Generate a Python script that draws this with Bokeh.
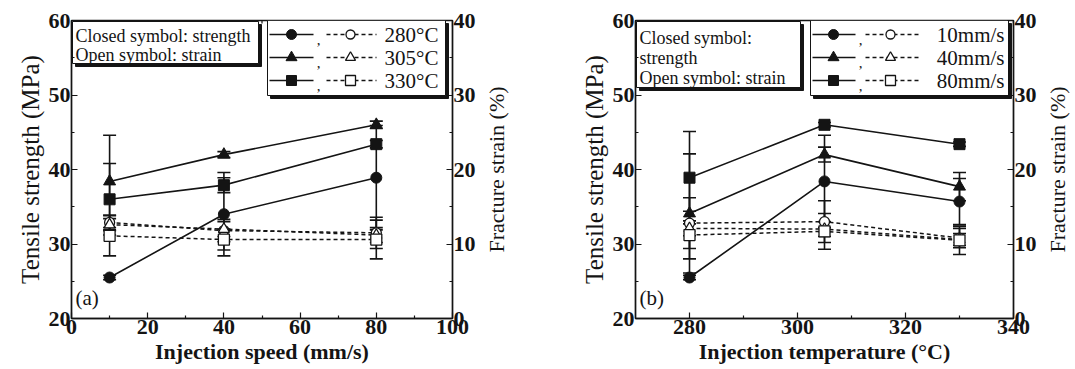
from bokeh.plotting import figure
from bokeh.models import Range1d, LinearAxis, FixedTicker
from bokeh.layouts import row
from bokeh.embed import file_html
from bokeh.resources import INLINE
from bokeh.core.properties import value

# ---------------- data ----------------
# (a) effect of injection speed, one series per injection temperature
speed = [10, 40, 80]
a_labels = ["280°C", "305°C", "330°C"]
a_strength_280 = [25.5, 34.0, 38.9]
a_strength_305 = [38.4, 42.0, 46.0]
a_strength_330 = [36.0, 37.9, 43.4]
a_strength_err_280 = [0.3, 5.6, 7.0]
a_strength_err_305 = [6.2, 0.4, 0.5]
a_strength_err_330 = [4.8, 1.0, 0.5]
a_strain_280 = [12.9, 11.8, 11.5]
a_strain_305 = [12.6, 12.0, 11.2]
a_strain_330 = [11.1, 10.6, 10.6]
a_strain_err_280 = [1.0, 1.5, 2.1]
a_strain_err_305 = [0.8, 1.0, 1.0]
a_strain_err_330 = [2.7, 1.4, 2.6]

# (b) effect of injection temperature, one series per injection speed
temperature = [280, 305, 330]
b_labels = ["10mm/s", "40mm/s", "80mm/s"]
b_strength_10 = [25.5, 38.4, 35.7]
b_strength_40 = [34.1, 42.0, 37.7]
b_strength_80 = [38.9, 46.0, 43.4]
b_strength_err_10 = [0.3, 6.2, 3.1]
b_strength_err_40 = [8.0, 1.0, 1.9]
b_strength_err_80 = [6.2, 0.3, 0.3]
b_strain_10 = [12.8, 13.0, 10.8]
b_strain_40 = [12.1, 12.0, 10.6]
b_strain_80 = [11.2, 11.7, 10.5]
b_strain_err_10 = [3.4, 2.8, 1.3]
b_strain_err_40 = [1.0, 1.0, 0.8]
b_strain_err_80 = [3.2, 2.4, 1.9]

a_x_ticks = [0, 20, 40, 60, 80, 100]
a_x_minor = [10, 30, 50, 70, 90]
b_x_ticks = [280, 300, 320, 340]
b_x_minor = [290, 310, 330]
strength_ticks = [20, 30, 40, 50, 60]
strength_minor = [25, 35, 45, 55]
strain_ticks = [0, 10, 20, 30, 40]
strain_minor = [5, 15, 25, 35]

SERIF = "Liberation Serif"
INK = "#141414"
MARKERS = ["circle", "triangle", "square"]
FILLED_SIZE = {"circle": 11, "triangle": 12, "square": 11}
OPEN_SIZE = {"circle": 10, "triangle": 11, "square": 11}


def style_axis(ax, bold_label=False, label_size="22px"):
    ax.major_tick_in = 6
    ax.major_tick_out = 0
    ax.minor_tick_in = 3
    ax.minor_tick_out = 0
    ax.axis_line_color = INK
    ax.axis_line_width = 1.4
    ax.major_tick_line_color = INK
    ax.minor_tick_line_color = INK
    ax.major_tick_line_width = 1.2
    ax.minor_tick_line_width = 1.2
    ax.major_label_text_font = SERIF
    ax.major_label_text_font_style = "bold"
    ax.major_label_text_font_size = "22px"
    ax.major_label_text_color = INK
    ax.major_label_standoff = 1
    ax.axis_label_text_font = SERIF
    ax.axis_label_text_font_size = label_size
    ax.axis_label_text_font_style = "bold" if bold_label else "normal"
    ax.axis_label_text_color = INK
    ax.axis_label_standoff = 2


def build(x, strengths, strength_errs, strains, strain_errs, labels, xr,
          xticks, xminor, xlabel, tag, W, bl, br, ox, note_lines, geom):
    p = figure(width=W, height=369, x_range=Range1d(xr[0], xr[1]),
               y_range=Range1d(20, 60), x_axis_type=None, y_axis_type=None,
               output_backend="svg", toolbar_location=None,
               min_border_left=bl, min_border_right=br,
               min_border_top=20, min_border_bottom=51)
    p.extra_y_ranges = {"strain": Range1d(0, 40)}
    p.outline_line_color = INK
    p.outline_line_width = 1.4
    p.background_fill_color = "white"
    p.border_fill_color = "white"

    fw = W - bl - br

    def X(px):
        return xr[0] + (px - ox - bl) / fw * (xr[1] - xr[0])

    def Y(py):
        return 20 + (318 - py) / 298 * 40

    bottom = LinearAxis(ticker=FixedTicker(ticks=xticks, minor_ticks=xminor), axis_label=xlabel)
    style_axis(bottom, bold_label=True, label_size="22px")
    p.add_layout(bottom, "below")
    left = LinearAxis(ticker=FixedTicker(ticks=strength_ticks, minor_ticks=strength_minor),
                      axis_label="Tensile strength (MPa)")
    style_axis(left, label_size="25px")
    p.add_layout(left, "left")
    right = LinearAxis(y_range_name="strain",
                       ticker=FixedTicker(ticks=strain_ticks, minor_ticks=strain_minor))
    style_axis(right)
    p.add_layout(right, "right")

    # inward ticks along the top edge of the frame (no labels)
    p.segment(x0=xticks, y0=[60] * len(xticks), x1=xticks, y1=[Y(26)] * len(xticks),
              line_color=INK, line_width=1.2)
    p.segment(x0=xminor, y0=[60] * len(xminor), x1=xminor, y1=[Y(23)] * len(xminor),
              line_color=INK, line_width=1.2)

    # strain (open symbols, dashed)
    for i in range(3):
        p.line(x, strains[i], y_range_name="strain", line_color=INK,
               line_width=1.5, line_dash="4 3")
        lo = [v - e for v, e in zip(strains[i], strain_errs[i])]
        hi = [v + e for v, e in zip(strains[i], strain_errs[i])]
        p.segment(x0=x, y0=lo, x1=x, y1=hi, y_range_name="strain",
                  line_color=INK, line_width=1.6)
        p.scatter(x, lo, y_range_name="strain", marker="dash", size=13,
                  line_color=INK, line_width=1.6)
        p.scatter(x, hi, y_range_name="strain", marker="dash", size=13,
                  line_color=INK, line_width=1.6)
    # strength (closed symbols, solid)
    for i in range(3):
        p.line(x, strengths[i], line_color=INK, line_width=1.6)
        lo = [v - e for v, e in zip(strengths[i], strength_errs[i])]
        hi = [v + e for v, e in zip(strengths[i], strength_errs[i])]
        p.segment(x0=x, y0=lo, x1=x, y1=hi, line_color=INK, line_width=1.6)
        p.scatter(x, lo, marker="dash", size=13, line_color=INK, line_width=1.6)
        p.scatter(x, hi, marker="dash", size=13, line_color=INK, line_width=1.6)
        p.scatter(x, strengths[i], marker=MARKERS[i], size=FILLED_SIZE[MARKERS[i]],
                  fill_color=INK, line_color=INK)
    for i in range(3):
        p.scatter(x, strains[i], y_range_name="strain", marker=MARKERS[i],
                  size=OPEN_SIZE[MARKERS[i]], fill_color="white",
                  line_color=INK, line_width=1.3)

    def shadow_box(l, r, t, b):
        p.quad(left=[X(l + 3)], right=[X(r + 3)], top=[Y(t + 3)], bottom=[Y(b + 3)],
               fill_color=INK, line_color=INK)
        p.quad(left=[X(l)], right=[X(r)], top=[Y(t)], bottom=[Y(b)],
               fill_color="white", line_color=INK, line_width=1)

    g = geom
    shadow_box(*g["note_box"])
    p.text(x=[X(g["note_x"])] * len(note_lines), y=[Y(v) for v in g["note_y"]],
           text=note_lines, text_font=value(SERIF), text_font_size=value("18px"),
           text_baseline="middle", text_align="left", text_color=INK)

    shadow_box(*g["leg_box"])
    for i in range(3):
        yy = Y(g["rows"][i])
        p.line([X(g["solid"][0]), X(g["solid"][1])], [yy, yy], line_color=INK, line_width=1.6)
        p.scatter([X(g["solid_m"])], [yy], marker=MARKERS[i], size=FILLED_SIZE[MARKERS[i]] - 1,
                  fill_color=INK, line_color=INK)
        p.text(x=[X(g["comma"])], y=[Y(g["rows"][i] + 5)], text=[","],
               text_font=value(SERIF), text_font_size=value("15px"),
               text_baseline="middle", text_align="center", text_color=INK)
        p.line([X(g["dash"][0]), X(g["dash"][1])], [yy, yy], line_color=INK,
               line_width=1.4, line_dash="4 3")
        p.scatter([X(g["dash_m"])], [yy], marker=MARKERS[i], size=OPEN_SIZE[MARKERS[i]] - 1,
                  fill_color="white", line_color=INK, line_width=1.3)
    p.text(x=[X(g["lab_x"])] * 3, y=[Y(v) for v in g["rows"]], text=labels,
           text_font=value(SERIF), text_font_size=value("21px"),
           text_baseline="middle", text_align=g["lab_align"], text_color=INK)

    p.text(x=[X(g["tag"][0])], y=[Y(g["tag"][1])], text=[tag],
           text_font=value(SERIF), text_font_size=value("21px"),
           text_baseline="middle", text_align="left", text_color=INK)
    return p


def title_strip(W, text):
    """Narrow companion figure whose left-axis title reads bottom-to-top,
    serving as the right-hand axis title of the panel next to it."""
    s = figure(width=W, height=369, x_range=Range1d(0, 1), y_range=Range1d(0, 40),
               x_axis_type=None, y_axis_type=None, output_backend="svg",
               toolbar_location=None, min_border_left=27, min_border_right=0,
               min_border_top=20, min_border_bottom=51)
    s.outline_line_color = None
    s.background_fill_color = "white"
    s.border_fill_color = "white"
    ax = LinearAxis(ticker=FixedTicker(ticks=[]), axis_label=text)
    style_axis(ax, label_size="22px")
    ax.axis_line_color = None
    ax.major_tick_line_color = None
    ax.minor_tick_line_color = None
    ax.axis_label_standoff = 1
    s.add_layout(ax, "left")
    return s


geom_a = dict(note_box=(72, 258, 21, 63), note_x=75, note_y=[35, 54],
              leg_box=(267, 445, 20, 95), rows=[34, 57, 80],
              solid=(269, 313), solid_m=291, comma=318, dash=(326, 376), dash_m=350,
              lab_x=384, lab_align="left", tag=(75, 297))
geom_b = dict(note_box=(636, 800, 21, 87), note_x=639, note_y=[37, 57, 77],
              leg_box=(810, 1008, 20, 95), rows=[34, 57, 80],
              solid=(812, 855), solid_m=833, comma=860, dash=(865, 918), dash_m=890,
              lab_x=1004, lab_align="right", tag=(639, 297))

pa = build(speed,
           [a_strength_280, a_strength_305, a_strength_330],
           [a_strength_err_280, a_strength_err_305, a_strength_err_330],
           [a_strain_280, a_strain_305, a_strain_330],
           [a_strain_err_280, a_strain_err_305, a_strain_err_330],
           a_labels, (0, 100), a_x_ticks, a_x_minor, "Injection speed (mm/s)", "(a)",
           480, 71, 28, 0, ["Closed symbol: strength", "Open symbol: strain"], geom_a)
pb = build(temperature,
           [b_strength_10, b_strength_40, b_strength_80],
           [b_strength_err_10, b_strength_err_40, b_strength_err_80],
           [b_strain_10, b_strain_40, b_strain_80],
           [b_strain_err_10, b_strain_err_40, b_strain_err_80],
           b_labels, (270, 340), b_x_ticks, b_x_minor, "Injection temperature (°C)", "(b)",
           504, 98, 28, 537, ["Closed symbol:", "strength", "Open symbol: strain"], geom_b)

layout = row(pa, title_strip(57, "Fracture strain (%)"),
             pb, title_strip(34, "Fracture strain (%)"), spacing=0)
open("out.html", "w").write(file_html(layout, INLINE))
